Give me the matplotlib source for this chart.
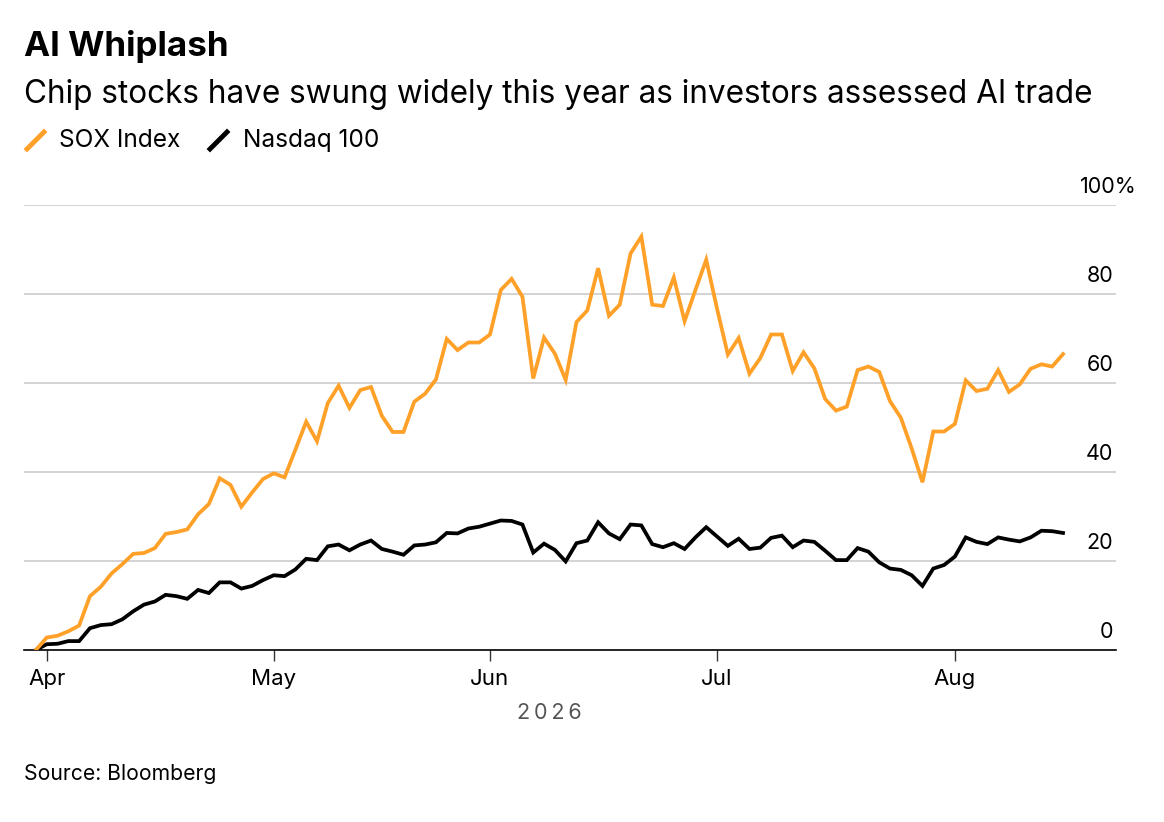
import numpy as np
import pandas as pd
import matplotlib
matplotlib.use('Agg')
import matplotlib.pyplot as plt
from matplotlib.lines import Line2D

plt.rcParams['font.family'] = ['Inter', 'DejaVu Sans']

# trading days, Mar 31 to Aug 17 2026 (NYSE holidays skipped)
holidays = ['2026-04-03', '2026-05-25', '2026-06-19', '2026-07-03']
dates = pd.bdate_range('2026-03-31', '2026-08-17', freq='C', holidays=holidays)

# cumulative % change since Mar 31
sox = [0, 2.8, 3.2, 4.2, 5.5, 12.1, 14.2, 17.2, 19.3, 21.6,
       21.8, 22.9, 26.1, 26.5, 27.1, 30.5, 32.8, 38.6, 37.1, 32.2,
       35.4, 38.4, 39.7, 38.8, 45.0, 51.3, 46.9, 55.5, 59.4, 54.4,
       58.4, 59.1, 52.6, 49.0, 49.0, 55.8, 57.6, 60.8, 69.9, 67.4,
       69.1, 69.1, 70.9, 80.9, 83.4, 79.4, 61.0, 70.2, 66.6, 60.7,
       73.7, 76.3, 85.8, 75.1, 77.6, 89.1, 92.9, 77.6, 77.3, 83.7,
       73.9, 80.9, 87.7, 76.7, 66.4, 70.1, 62.1, 65.6, 70.9, 70.9,
       62.7, 66.9, 63.3, 56.4, 53.8, 54.7, 62.9, 63.7, 62.5, 55.9,
       52.2, 45.3, 37.7, 49.1, 49.1, 50.8, 60.6, 58.2, 58.7, 62.9,
       58.0, 59.7, 63.2, 64.2, 63.7, 66.5]
ndx = [0, 1.3, 1.4, 2.0, 2.0, 4.9, 5.6, 5.8, 6.9, 8.7,
       10.2, 10.9, 12.4, 12.1, 11.5, 13.5, 12.8, 15.2, 15.2, 13.8,
       14.4, 15.7, 16.8, 16.6, 18.1, 20.5, 20.2, 23.3, 23.7, 22.4,
       23.7, 24.6, 22.7, 22.1, 21.4, 23.5, 23.7, 24.2, 26.3, 26.2,
       27.3, 27.7, 28.4, 29.1, 29.0, 28.2, 21.9, 23.9, 22.5, 19.9,
       24.0, 24.6, 28.7, 26.2, 24.9, 28.2, 28.0, 23.8, 23.1, 24.0,
       22.7, 25.3, 27.6, 25.5, 23.4, 25.0, 22.7, 23.0, 25.2, 25.7,
       23.1, 24.6, 24.3, 22.3, 20.2, 20.2, 22.9, 22.1, 19.7, 18.3,
       18.0, 16.8, 14.4, 18.3, 19.1, 21.0, 25.3, 24.3, 23.8, 25.3,
       24.8, 24.4, 25.3, 26.8, 26.7, 26.3]
y_ticks = [0, 20, 40, 60, 80, 100]

SOX_COLOR = '#FFA028'
W, H = 1164, 822


def fx(x):
    return x / W


def fy(y):
    return 1 - y / H


fig = plt.figure(figsize=(W / 100, H / 100), dpi=100)
ax = fig.add_axes([fx(24), fy(650), fx(1116) - fx(24), fy(205) - fy(650)])

x = np.arange(len(dates))
ax.plot(x, ndx, color='black', lw=2.7, solid_joinstyle='miter', zorder=3)
ax.plot(x, sox, color=SOX_COLOR, lw=2.7, solid_joinstyle='miter', zorder=4)

ax.set_xlim(-1.1, len(dates) - 1 + 4.9)
ax.set_ylim(0, 100)

# month ticks at first trading day of each month
month_start = [i for i in range(1, len(dates)) if dates[i].month != dates[i - 1].month]
ax.set_xticks(month_start)
ax.set_xticklabels([dates[i].strftime('%b') for i in month_start], fontsize=16)
ax.tick_params(axis='x', length=8, width=1, color='#333333', pad=6)

ax.set_yticks([])
for v in y_ticks[1:]:
    ax.axhline(v, color='#cccccc', lw=1.2, zorder=1)
for v in y_ticks[:-1]:
    ax.text(0.9975, v + 2.8, str(v), transform=ax.get_yaxis_transform(),
            ha='right', va='baseline', fontsize=15.5)
# top label carries the unit, hanging past the right edge
ax.text(1.0185, y_ticks[-1] + 2.8, f'{y_ticks[-1]}%', transform=ax.get_yaxis_transform(),
        ha='right', va='baseline', fontsize=15.5)

for s in ['top', 'right', 'left']:
    ax.spines[s].set_visible(False)
ax.spines['bottom'].set_linewidth(1.2)

# year label centred over the data, letter-spaced
ax.text((len(dates) - 1) / 2, -15.5, '\u2009'.join('2026'), ha='center', va='baseline',
        fontsize=15.5, color='#555555')

fig.text(fx(24), fy(56), 'AI Whiplash', fontsize=25.2, fontweight='bold', va='baseline')
fig.text(fx(24), fy(103), 'Chip stocks have swung widely this year as investors assessed AI trade',
         fontsize=22.7, va='baseline')

# legend
fig.add_artist(Line2D([fx(27), fx(44)], [fy(149), fy(132)], color=SOX_COLOR, lw=3.5))
fig.text(fx(59), fy(147), 'SOX Index', fontsize=17.6, va='baseline')
fig.add_artist(Line2D([fx(210), fx(227)], [fy(149), fy(132)], color='black', lw=3.5))
fig.text(fx(243), fy(147), 'Nasdaq 100', fontsize=17.6, va='baseline')

fig.text(fx(24), fy(780), 'Source: Bloomberg', fontsize=15.2, va='baseline')

fig.savefig('out.png', dpi=100)
